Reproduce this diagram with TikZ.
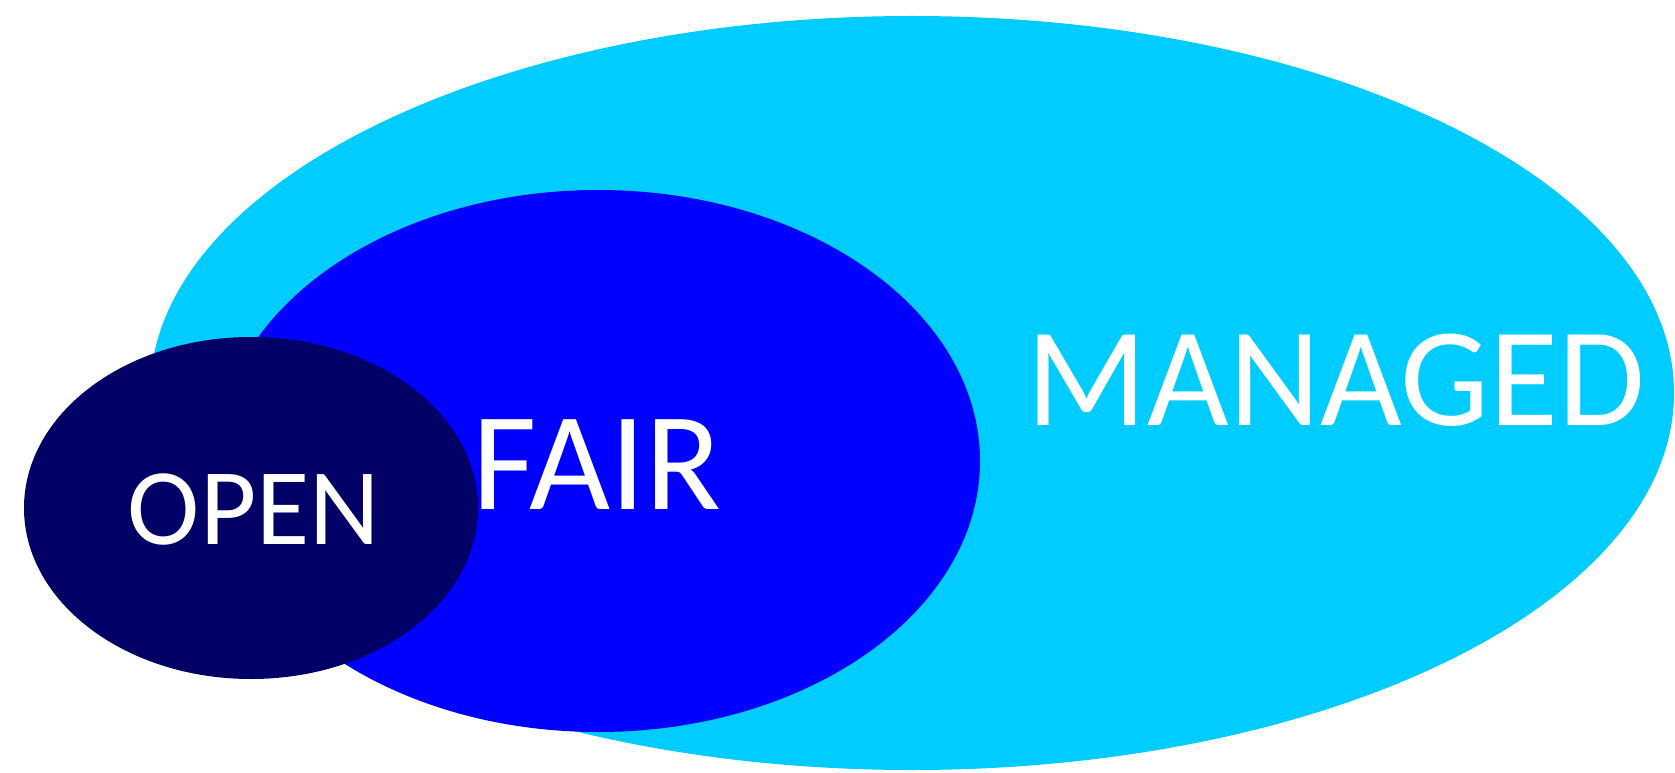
\documentclass[tikz,border=0pt]{standalone}
\usepackage{fontspec}
\setmainfont{Carlito}
\usetikzlibrary{shapes.geometric}
\definecolor{managedc}{HTML}{00CCFF}
\definecolor{fairc}{HTML}{0000FF}
\definecolor{openc}{HTML}{000066}
\tikzset{
  blob/.style={ellipse, inner sep=0pt, draw=none},
  lbl/.style={text=white, inner sep=0pt, font=\fontsize{#1}{#1}\selectfont},
}
\begin{document}
\begin{tikzpicture}[x=1pt,y=-1pt]
\useasboundingbox (0,0) rectangle (1675,773);
\node[blob, fill=managedc, minimum width=1524pt, minimum height=754pt] (managed) at (912,393) {};
\node[blob, fill=fairc, minimum width=764pt, minimum height=542pt] (fair) at (598,461) {};
\node[blob, fill=openc, minimum width=454pt, minimum height=342pt] (open) at (251,508) {};
\node[lbl=141] (tmanaged) at (1336,380) {MANAGED};
\node[lbl=140] (tfair) at (597,465) {FAIR};
\node[lbl=109] (topen) at (254,510) {OPEN};
\end{tikzpicture}
\end{document}
